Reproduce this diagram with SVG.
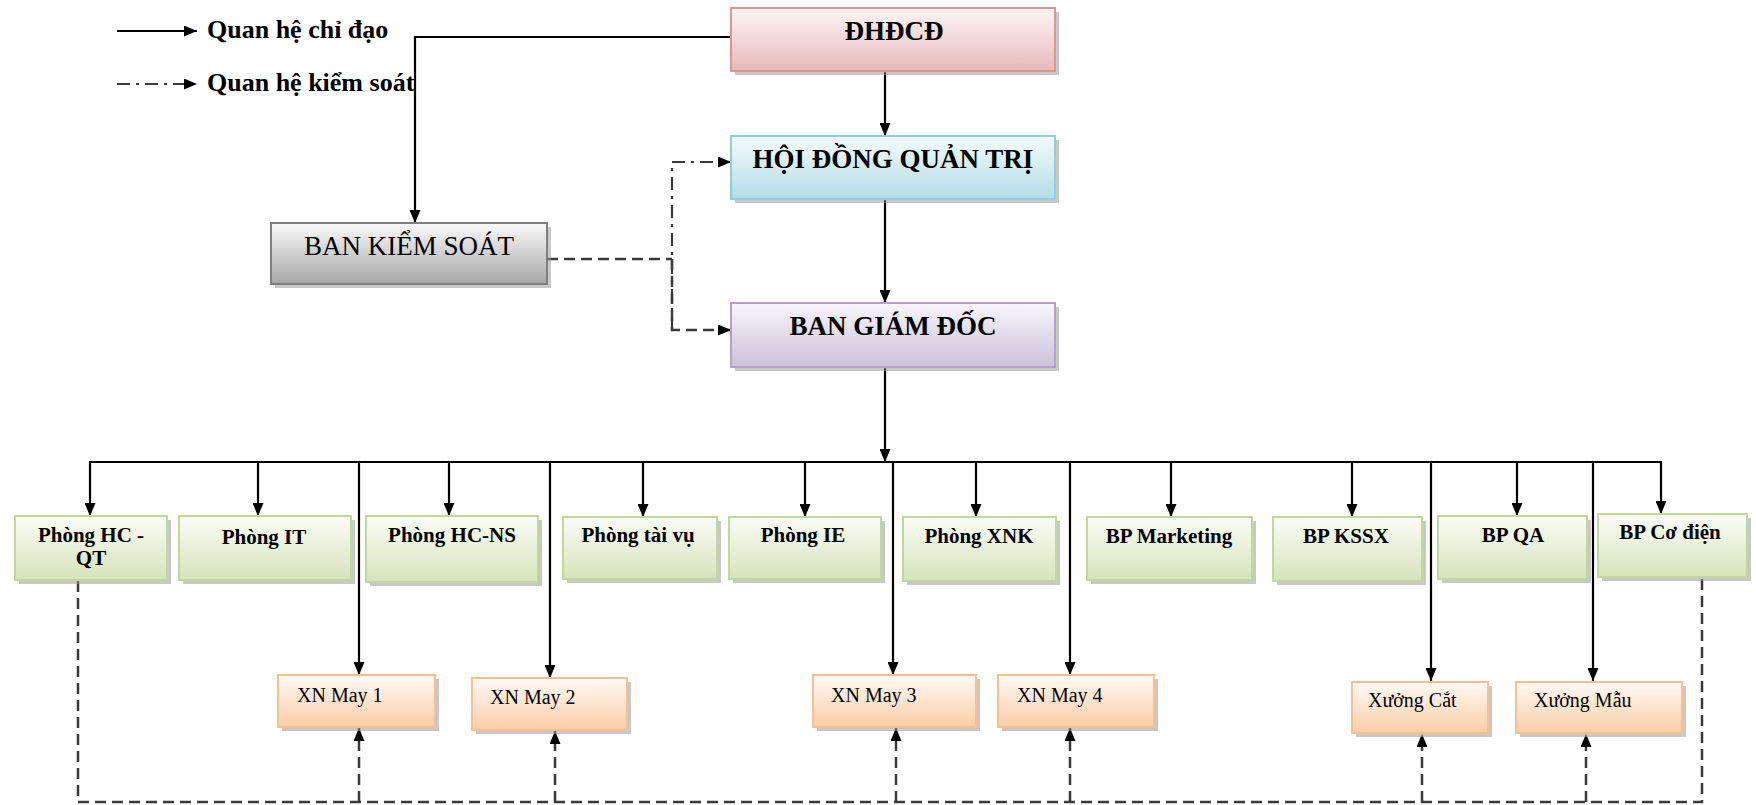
<svg xmlns="http://www.w3.org/2000/svg" width="1756" height="805" viewBox="0 0 1756 805">
<style>
text{font-family:"Liberation Serif","Times New Roman",serif;fill:#000}
.b{font-weight:bold}
.t27{font-size:27px}
.d{font-size:21px;font-weight:bold;text-anchor:middle}
.x{font-size:20px}
.m{text-anchor:middle}
.sh{fill:#9a9a9a;opacity:0.55}
.solid{fill:none;stroke:#000;stroke-width:2.2}
.dash{fill:none;stroke:#3a3a3a;stroke-width:2.5;stroke-dasharray:11,6}
.dd{fill:none;stroke:#3a3a3a;stroke-width:2.2;stroke-dasharray:13,6,3,6}
</style>
<defs>
<marker id="ah" viewBox="0 0 13 11" refX="13" refY="5.5" markerWidth="13" markerHeight="11" markerUnits="userSpaceOnUse" orient="auto"><path d="M0,0 L13,5.5 L0,11 z" fill="#000"/></marker>
<linearGradient id="gPink" x1="0" y1="0" x2="0" y2="1"><stop offset="0" stop-color="#fdf5f5"/><stop offset="1" stop-color="#e6b9b8"/></linearGradient>
<linearGradient id="gBlue" x1="0" y1="0" x2="0" y2="1"><stop offset="0" stop-color="#f5fbfc"/><stop offset="1" stop-color="#b3dce6"/></linearGradient>
<linearGradient id="gPurp" x1="0" y1="0" x2="0" y2="1"><stop offset="0" stop-color="#f8f6fb"/><stop offset="1" stop-color="#cbc0da"/></linearGradient>
<linearGradient id="gGray" x1="0" y1="0" x2="0" y2="1"><stop offset="0" stop-color="#fafafa"/><stop offset="1" stop-color="#a6a6a6"/></linearGradient>
<linearGradient id="gGreen" x1="0" y1="0" x2="0" y2="1"><stop offset="0" stop-color="#fbfdf7"/><stop offset="1" stop-color="#d6e3bb"/></linearGradient>
<linearGradient id="gOr" x1="0" y1="0" x2="0" y2="1"><stop offset="0" stop-color="#fffaf6"/><stop offset="1" stop-color="#fbcda6"/></linearGradient>
</defs>

<g id="legend">
<line x1="117" y1="31" x2="197" y2="31" class="solid" marker-end="url(#ah)"/>
<text x="207" y="38" class="b" font-size="26">Quan hệ chỉ đạo</text>
<line x1="117" y1="84" x2="197" y2="84" class="dd" marker-end="url(#ah)"/>
<text x="207" y="91" class="b" font-size="26">Quan hệ kiểm soát</text>
</g>

<g id="connectors">
<path d="M731,37 H415 V223" class="solid" marker-end="url(#ah)"/>
<line x1="885" y1="71" x2="885" y2="136" class="solid" marker-end="url(#ah)"/>
<line x1="885" y1="199" x2="885" y2="303" class="solid" marker-end="url(#ah)"/>
<line x1="885" y1="367" x2="885" y2="462" class="solid" marker-end="url(#ah)"/>
<path d="M547,259 H672" class="dash"/>
<path d="M672,330 V162 H731" class="dd" marker-end="url(#ah)"/>
<path d="M672,259 V330 H731" class="dash" marker-end="url(#ah)"/>
<line x1="89" y1="462" x2="1662" y2="462" class="solid"/>
<line x1="90" y1="462" x2="90" y2="516" class="solid" stroke-width="2.8" marker-end="url(#ah)"/>
<line x1="258" y1="462" x2="258" y2="516" class="solid" marker-end="url(#ah)"/>
<line x1="449" y1="462" x2="449" y2="516" class="solid" marker-end="url(#ah)"/>
<line x1="643" y1="462" x2="643" y2="517" class="solid" marker-end="url(#ah)"/>
<line x1="805" y1="462" x2="805" y2="517" class="solid" marker-end="url(#ah)"/>
<line x1="976" y1="462" x2="976" y2="517" class="solid" marker-end="url(#ah)"/>
<line x1="1171" y1="462" x2="1171" y2="517" class="solid" marker-end="url(#ah)"/>
<line x1="1352" y1="462" x2="1352" y2="517" class="solid" marker-end="url(#ah)"/>
<line x1="1517" y1="462" x2="1517" y2="516" class="solid" marker-end="url(#ah)"/>
<line x1="1661" y1="462" x2="1661" y2="514" class="solid" marker-end="url(#ah)"/>
<line x1="359" y1="462" x2="359" y2="675" class="solid" marker-end="url(#ah)"/>
<line x1="550" y1="462" x2="550" y2="678" class="solid" marker-end="url(#ah)"/>
<line x1="893" y1="462" x2="893" y2="675" class="solid" marker-end="url(#ah)"/>
<line x1="1070" y1="462" x2="1070" y2="675" class="solid" marker-end="url(#ah)"/>
<line x1="1431" y1="462" x2="1431" y2="681" class="solid" marker-end="url(#ah)"/>
<line x1="1593" y1="462" x2="1593" y2="681" class="solid" marker-end="url(#ah)"/>
<path d="M78,581 V802 H1702 V578" class="dash"/>
<line x1="359" y1="802" x2="359" y2="728" class="dash" marker-end="url(#ah)"/>
<line x1="555" y1="802" x2="555" y2="731" class="dash" marker-end="url(#ah)"/>
<line x1="896" y1="802" x2="896" y2="728" class="dash" marker-end="url(#ah)"/>
<line x1="1070" y1="802" x2="1070" y2="728" class="dash" marker-end="url(#ah)"/>
<line x1="1422" y1="802" x2="1422" y2="734" class="dash" marker-end="url(#ah)"/>
<line x1="1586" y1="802" x2="1586" y2="734" class="dash" marker-end="url(#ah)"/>
</g>

<g id="dhdcd">
<rect x="735" y="12" width="324" height="63" class="sh"/>
<rect x="731" y="8" width="324" height="63" fill="url(#gPink)" stroke="#d99694" stroke-width="2"/>
<text x="894" y="40" class="b t27 m">ĐHĐCĐ</text>
</g>
<g id="hdqt">
<rect x="735" y="140" width="324" height="63" class="sh"/>
<rect x="731" y="136" width="324" height="63" fill="url(#gBlue)" stroke="#92cddc" stroke-width="2"/>
<text x="893" y="168" class="b t27 m">HỘI ĐỒNG QUẢN TRỊ</text>
</g>
<g id="bgd">
<rect x="735" y="307" width="324" height="64" class="sh"/>
<rect x="731" y="303" width="324" height="64" fill="url(#gPurp)" stroke="#b3a2c7" stroke-width="2"/>
<text x="893" y="335" class="b t27 m">BAN GIÁM ĐỐC</text>
</g>
<g id="bks">
<rect x="275" y="227" width="276" height="61" class="sh"/>
<rect x="271" y="223" width="276" height="61" fill="url(#gGray)" stroke="#7f7f7f" stroke-width="2"/>
<text x="409" y="255" class="t27 m">BAN KIỂM SOÁT</text>
</g>

<g id="phong-hcqt">
<rect x="19" y="520" width="152" height="64" class="sh"/>
<rect x="15" y="516" width="152" height="64" fill="url(#gGreen)" stroke="#c3d69b" stroke-width="2"/>
<text x="91" y="542" class="d">Phòng HC -</text>
<text x="91" y="565" class="d">QT</text>
</g>
<g id="phong-it">
<rect x="183" y="520" width="172" height="64" class="sh"/>
<rect x="179" y="516" width="172" height="64" fill="url(#gGreen)" stroke="#c3d69b" stroke-width="2"/>
<text x="264" y="544" class="d">Phòng IT</text>
</g>
<g id="phong-hcns">
<rect x="370" y="520" width="172" height="66" class="sh"/>
<rect x="366" y="516" width="172" height="66" fill="url(#gGreen)" stroke="#c3d69b" stroke-width="2"/>
<text x="452" y="542" class="d">Phòng HC-NS</text>
</g>
<g id="phong-taivu">
<rect x="567" y="521" width="154" height="62" class="sh"/>
<rect x="563" y="517" width="154" height="62" fill="url(#gGreen)" stroke="#c3d69b" stroke-width="2"/>
<text x="638" y="542" class="d">Phòng tài vụ</text>
</g>
<g id="phong-ie">
<rect x="733" y="521" width="152" height="62" class="sh"/>
<rect x="729" y="517" width="152" height="62" fill="url(#gGreen)" stroke="#c3d69b" stroke-width="2"/>
<text x="803" y="542" class="d">Phòng IE</text>
</g>
<g id="phong-xnk">
<rect x="907" y="521" width="153" height="64" class="sh"/>
<rect x="903" y="517" width="153" height="64" fill="url(#gGreen)" stroke="#c3d69b" stroke-width="2"/>
<text x="979" y="543" class="d">Phòng XNK</text>
</g>
<g id="bp-marketing">
<rect x="1091" y="521" width="165" height="63" class="sh"/>
<rect x="1087" y="517" width="165" height="63" fill="url(#gGreen)" stroke="#c3d69b" stroke-width="2"/>
<text x="1169" y="543" class="d">BP Marketing</text>
</g>
<g id="bp-kssx">
<rect x="1277" y="521" width="149" height="64" class="sh"/>
<rect x="1273" y="517" width="149" height="64" fill="url(#gGreen)" stroke="#c3d69b" stroke-width="2"/>
<text x="1346" y="543" class="d">BP KSSX</text>
</g>
<g id="bp-qa">
<rect x="1442" y="520" width="149" height="63" class="sh"/>
<rect x="1438" y="516" width="149" height="63" fill="url(#gGreen)" stroke="#c3d69b" stroke-width="2"/>
<text x="1513" y="542" class="d">BP QA</text>
</g>
<g id="bp-codien">
<rect x="1602" y="518" width="149" height="63" class="sh"/>
<rect x="1598" y="514" width="149" height="63" fill="url(#gGreen)" stroke="#c3d69b" stroke-width="2"/>
<text x="1670" y="539" class="d">BP Cơ điện</text>
</g>

<g id="xn-may-1">
<rect x="282" y="679" width="157" height="52" class="sh"/>
<rect x="278" y="675" width="157" height="52" fill="url(#gOr)" stroke="#fabf8f" stroke-width="2"/>
<text x="297" y="702" class="x">XN May 1</text>
</g>
<g id="xn-may-2">
<rect x="476" y="682" width="155" height="52" class="sh"/>
<rect x="472" y="678" width="155" height="52" fill="url(#gOr)" stroke="#fabf8f" stroke-width="2"/>
<text x="490" y="704" class="x">XN May 2</text>
</g>
<g id="xn-may-3">
<rect x="817" y="679" width="163" height="52" class="sh"/>
<rect x="813" y="675" width="163" height="52" fill="url(#gOr)" stroke="#fabf8f" stroke-width="2"/>
<text x="831" y="702" class="x">XN May 3</text>
</g>
<g id="xn-may-4">
<rect x="1002" y="679" width="156" height="52" class="sh"/>
<rect x="998" y="675" width="156" height="52" fill="url(#gOr)" stroke="#fabf8f" stroke-width="2"/>
<text x="1017" y="702" class="x">XN May 4</text>
</g>
<g id="xuong-cat">
<rect x="1356" y="686" width="136" height="51" class="sh"/>
<rect x="1352" y="682" width="136" height="51" fill="url(#gOr)" stroke="#fabf8f" stroke-width="2"/>
<text x="1368" y="707" class="x">Xưởng Cắt</text>
</g>
<g id="xuong-mau">
<rect x="1520" y="686" width="166" height="51" class="sh"/>
<rect x="1516" y="682" width="166" height="51" fill="url(#gOr)" stroke="#fabf8f" stroke-width="2"/>
<text x="1534" y="707" class="x">Xưởng Mẫu</text>
</g>
</svg>
